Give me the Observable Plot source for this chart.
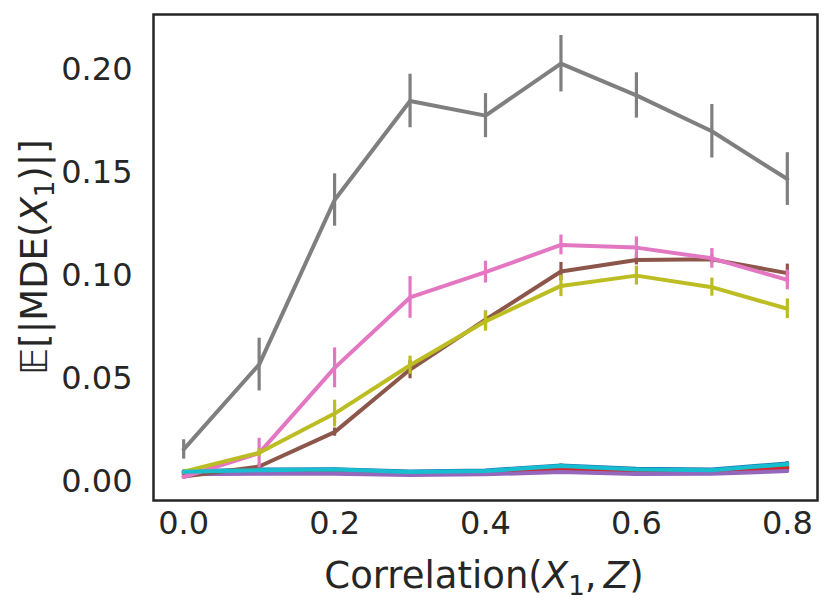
<!DOCTYPE html>
<html>
<head>
<meta charset="utf-8">
<script src="https://cdn.jsdelivr.net/npm/d3@7"></script>
<script src="https://cdn.jsdelivr.net/npm/@observablehq/plot@0.6"></script>
<style>
  html, body { margin: 0; padding: 0; background: #fff; }
  #chart { width: 830px; height: 610px; }
</style>
</head>
<body>
<div id="chart"></div>
<script>
// ---- data ----
const correlations = [0.0, 0.1, 0.2, 0.3, 0.4, 0.5, 0.6, 0.7, 0.8];
const xTicks = [0.0, 0.2, 0.4, 0.6, 0.8];
const yTicks = [0.00, 0.05, 0.10, 0.15, 0.20];

const seriesNames = ["S1", "S2", "S3", "S4", "S5", "S6", "S7", "S8", "S9", "S10"];
const seriesColors = ["#1f77b4", "#ff7f0e", "#2ca02c", "#d62728", "#9467bd", "#8c564b", "#e377c2", "#7f7f7f", "#bcbd22", "#17becf"];

const s1Mean  = [0.0052, 0.0060, 0.0062, 0.0051, 0.0056, 0.0080, 0.0064, 0.0060, 0.0090];
const s2Mean  = [0.0045, 0.0050, 0.0052, 0.0043, 0.0047, 0.0065, 0.0052, 0.0050, 0.0072];
const s3Mean  = [0.0048, 0.0053, 0.0055, 0.0046, 0.0050, 0.0070, 0.0056, 0.0054, 0.0078];
const s4Mean  = [0.0042, 0.0047, 0.0048, 0.0040, 0.0044, 0.0060, 0.0048, 0.0047, 0.0066];
const s5Mean  = [0.0037, 0.0040, 0.0040, 0.0034, 0.0037, 0.0048, 0.0039, 0.0040, 0.0053];
const s6Mean  = [0.0027, 0.0075, 0.0242, 0.0546, 0.0788, 0.1022, 0.1078, 0.1081, 0.1014];
const s7Mean  = [0.0024, 0.0140, 0.0554, 0.0896, 0.1019, 0.1151, 0.1138, 0.1086, 0.0981];
const s8Mean  = [0.0158, 0.0570, 0.1369, 0.1850, 0.1779, 0.2031, 0.1877, 0.1703, 0.1471];
const s9Mean  = [0.0050, 0.0142, 0.0332, 0.0567, 0.0780, 0.0952, 0.1002, 0.0946, 0.0841];
const s10Mean = [0.0050, 0.0057, 0.0060, 0.0048, 0.0053, 0.0077, 0.0061, 0.0057, 0.0086];

const s1Err  = [0.0004, 0.0005, 0.0005, 0.0004, 0.0005, 0.0007, 0.0005, 0.0005, 0.0008];
const s2Err  = [0.0004, 0.0005, 0.0005, 0.0004, 0.0005, 0.0006, 0.0005, 0.0005, 0.0007];
const s3Err  = [0.0004, 0.0005, 0.0005, 0.0004, 0.0005, 0.0006, 0.0005, 0.0005, 0.0007];
const s4Err  = [0.0004, 0.0004, 0.0004, 0.0004, 0.0004, 0.0005, 0.0004, 0.0004, 0.0006];
const s5Err  = [0.0003, 0.0004, 0.0004, 0.0003, 0.0004, 0.0005, 0.0004, 0.0004, 0.0005];
const s6Err  = [0.0005, 0.0010, 0.0020, 0.0045, 0.0042, 0.0044, 0.0024, 0.0020, 0.0044];
const s7Err  = [0.0008, 0.0072, 0.0097, 0.0101, 0.0053, 0.0048, 0.0052, 0.0048, 0.0048];
const s8Err  = [0.0047, 0.0128, 0.0127, 0.0130, 0.0107, 0.0137, 0.0110, 0.0130, 0.0128];
const s9Err  = [0.0008, 0.0020, 0.0065, 0.0044, 0.0048, 0.0052, 0.0046, 0.0044, 0.0048];
const s10Err = [0.0005, 0.0006, 0.0006, 0.0005, 0.0005, 0.0007, 0.0006, 0.0005, 0.0008];

const means = [s1Mean, s2Mean, s3Mean, s4Mean, s5Mean, s6Mean, s7Mean, s8Mean, s9Mean, s10Mean];
const errs  = [s1Err, s2Err, s3Err, s4Err, s5Err, s6Err, s7Err, s8Err, s9Err, s10Err];

// ---- long table ----
const rows = [];
seriesNames.forEach((s, i) => {
  correlations.forEach((c, j) => {
    rows.push({series: s, x: c, y: means[i][j], lo: means[i][j] - errs[i][j], hi: means[i][j] + errs[i][j]});
  });
});

const ink = "#262626";
const font = "DejaVu Sans, sans-serif";

const marks = [];
seriesNames.forEach((s) => {
  const d = rows.filter(r => r.series === s);
  marks.push(Plot.ruleX(d, {x: "x", y1: "lo", y2: "hi", stroke: "series", strokeWidth: 3.2}));
  marks.push(Plot.line(d, {x: "x", y: "y", stroke: "series", strokeWidth: 4, strokeLinejoin: "round", strokeLinecap: "round"}));
});

const svg = Plot.plot({
  width: 830,
  height: 610,
  marginLeft: 153,
  marginRight: 13,
  marginTop: 14,
  marginBottom: 110,
  style: {fontFamily: font, color: ink, background: "#fff", overflow: "visible"},
  x: {domain: [-0.04, 0.84], label: null},
  y: {domain: [-0.009, 0.227], label: null},
  color: {domain: seriesNames, range: seriesColors},
  marks: [
    ...marks,
    Plot.axisX({ticks: xTicks, tickFormat: d3.format(".1f"), tickSize: 0, tickPadding: 11, fontSize: 32, label: null, fill: ink}),
    Plot.axisY({ticks: yTicks, tickFormat: d3.format(".2f"), tickSize: 0, tickPadding: 21, fontSize: 32, label: null, fill: ink}),
    Plot.frame({stroke: ink, strokeWidth: 2.5})
  ]
});

document.getElementById("chart").appendChild(svg);

// axis titles with math-style parts
const s = d3.select(svg);
const xl = s.append("text")
  .attr("x", 484).attr("y", 588)
  .attr("text-anchor", "middle")
  .attr("font-family", font).attr("font-size", 37).attr("fill", ink);
xl.append("tspan").text("Correlation(");
xl.append("tspan").attr("font-style", "italic").text("X");
xl.append("tspan").attr("font-size", 26).attr("dy", 7).text("1");
xl.append("tspan").attr("dy", -7).text(",\u2009");
xl.append("tspan").attr("font-style", "italic").text("Z");
xl.append("tspan").text(")");

const yl = s.append("text")
  .attr("transform", "translate(47,257) rotate(-90)")
  .attr("text-anchor", "middle")
  .attr("font-family", font).attr("font-size", 37).attr("fill", ink);
yl.append("tspan").text("𝔼[|MDE(");
yl.append("tspan").attr("font-style", "italic").text("X");
yl.append("tspan").attr("font-size", 26).attr("dy", 7).text("1");
yl.append("tspan").attr("dy", -7).text(")|]");
</script>
</body>
</html>
